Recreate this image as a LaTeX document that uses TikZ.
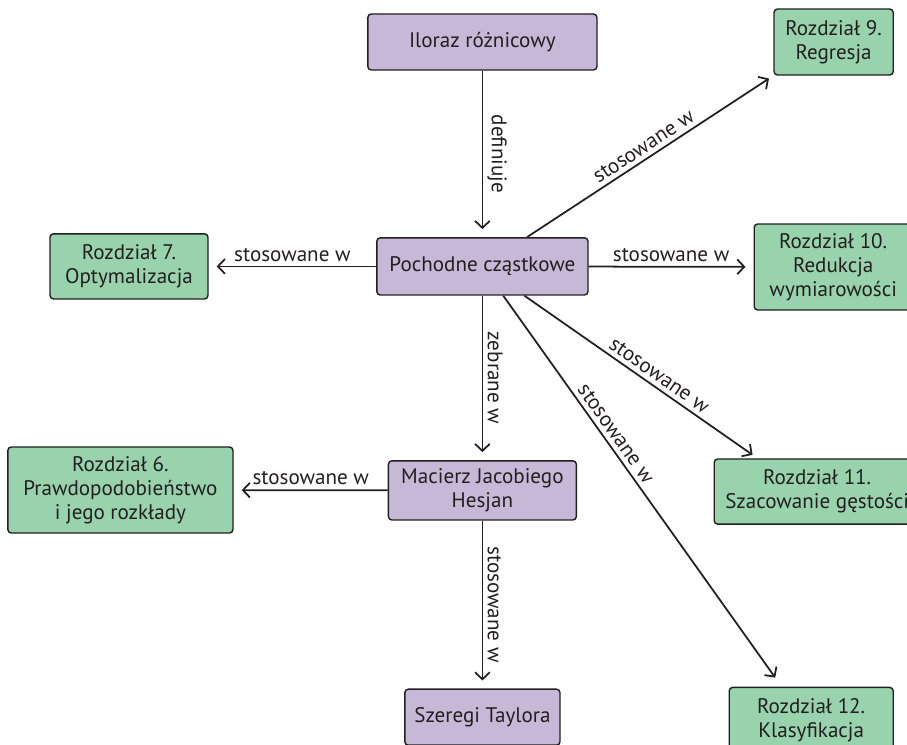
\documentclass[tikz,border=0pt]{standalone}
\usepackage{fontspec}
\setmainfont{PT Sans}
\definecolor{Topic}{RGB}{197,185,215}
\definecolor{Chapter}{RGB}{152,211,173}
\definecolor{Ink}{RGB}{35,31,32}
\usetikzlibrary{arrows.meta}

\begin{document}
\begin{tikzpicture}[
  font=\fontsize{15}{17}\selectfont,
  box/.style={draw=Ink,line width=1pt,rounded corners=2.5pt,align=center,inner sep=2pt,text=Ink},
  topic/.style={box,fill=Topic},
  chapter/.style={box,fill=Chapter},
  link/.style={draw=Ink,line width=1.25pt,-{Straight Barb[length=5pt,width=10.5pt]},shorten >=0.2cm},
  lbl/.style={text=Ink,inner sep=3pt}
]
  \useasboundingbox (0,0) rectangle (22.675,-18.625);
  % purple topics
  \node[topic,minimum width=5.73cm,minimum height=1.4cm] (iloraz) at (12.06,-1.05) {Iloraz różnicowy};
  \node[topic,minimum width=5.28cm,minimum height=1.43cm] (pochodne) at (12.06,-6.66) {Pochodne cząstkowe};
  \node[topic,minimum width=4.7cm,minimum height=1.48cm] (macierz) at (12.06,-12.26) {Macierz Jacobiego\\Hesjan};
  \node[topic,minimum width=3.88cm,minimum height=1.4cm] (szeregi) at (12.06,-17.93) {Szeregi Taylora};
  % green chapters
  \node[chapter,minimum width=2.98cm,minimum height=1.65cm] (r9) at (20.84,-1.05) {Rozdział 9.\\Regresja};
  \node[chapter,minimum width=3.95cm,minimum height=1.63cm] (r7) at (3.225,-6.66) {Rozdział 7.\\Optymalizacja};
  \node[chapter,minimum width=3.95cm,minimum height=2.15cm] (r10) at (20.83,-6.675) {Rozdział 10.\\Redukcja\\wymiarowości};
  \node[chapter,minimum width=5.63cm,minimum height=2.15cm] (r6) at (3.01,-12.25) {Rozdział 6.\\Prawdopodobieństwo\\i jego rozkłady};
  \node[chapter,minimum width=5.15cm,minimum height=1.63cm] (r11) at (20.43,-12.29) {Rozdział 11.\\Szacowanie gęstości};
  \node[chapter,minimum width=4.1cm,minimum height=1.63cm] (r12) at (20.28,-18.0) {Rozdział 12.\\Klasyfikacja};
  % links
  \draw[link] (iloraz) -- node[lbl,midway,sloped,above] {definiuje} (pochodne);
  \draw[link] (pochodne) -- node[lbl,midway,above] {stosowane w} (r7);
  \draw[link] (pochodne) -- node[lbl,midway,above] {stosowane w} (r10);
  \draw[link,shorten >=0.13cm] (pochodne) -- node[lbl,midway,sloped,above] {stosowane w} (r9.south west);
  \draw[link,shorten >=0.15cm] (pochodne) -- node[lbl,pos=0.55,sloped,above] {stosowane w} ([xshift=1.1cm]r11.north west);
  \draw[link,shorten >=0.28cm] (pochodne) -- node[lbl,pos=0.37,sloped,above] {stosowane w} ([xshift=1.33cm]r12.north west);
  \draw[link] (pochodne) -- node[lbl,midway,sloped,above] {zebrane w} (macierz);
  \draw[link] (macierz) -- node[lbl,midway,above] {stosowane w} (r6);
  \draw[link] (macierz) -- node[lbl,midway,sloped,above] {stosowane w} (szeregi);
\end{tikzpicture}
\end{document}
